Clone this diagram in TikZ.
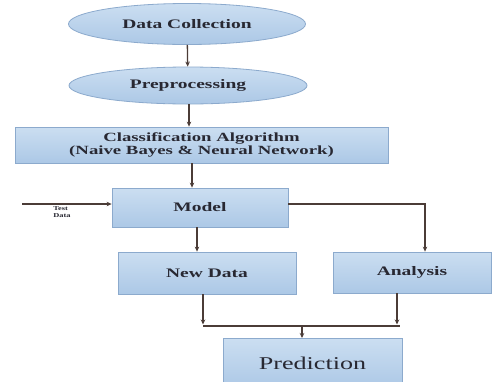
\documentclass[tikz,border=0pt]{standalone}
\usepackage{fontspec}
\setmainfont{Liberation Serif}[FakeStretch=1.5]
\newfontfamily\smallserif{Liberation Serif}[FakeStretch=1.4]
\newfontfamily\predfont{Liberation Serif}[FakeStretch=1.45]
\usetikzlibrary{shapes.geometric,arrows.meta}
\definecolor{boxtop}{RGB}{203,222,241}
\definecolor{boxbot}{RGB}{172,200,230}
\definecolor{boxborder}{RGB}{140,170,205}
\definecolor{linecol}{RGB}{75,60,55}
\definecolor{txtcol}{RGB}{40,40,50}
\tikzset{
  blockbase/.style={draw=boxborder, line width=0.8pt, top color=boxtop, bottom color=boxbot,
    text=txtcol, inner sep=0pt, align=center},
  ovalbox/.style={blockbase, ellipse, font=\fontsize{13}{15}\selectfont\bfseries},
  rectbox/.style={blockbase, rectangle, font=\fontsize{13}{15}\selectfont\bfseries},
  conn/.style={draw=linecol, line width=1.3pt},
  arr/.style={conn, -{Stealth[length=5pt,width=4.5pt]}}
}
\begin{document}
\begin{tikzpicture}[x=1pt,y=-1pt]
\clip (0,0) rectangle (493,381);
\fill[white] (0,0) rectangle (493,381);

\node[ovalbox, minimum width=237pt, minimum height=41pt] (dc) at (187,24) {Data Collection};
\node[ovalbox, minimum width=238pt, minimum height=37pt] (pp) at (188,85.5) {Preprocessing};
\node[rectbox, minimum width=373pt, minimum height=36pt,
      font=\fontsize{12.5}{12.5}\selectfont\bfseries] (cl) at (201.5,145)
      {Classification Algorithm\\(Naive Bayes \& Neural Network)};
\node[rectbox, minimum width=176pt, minimum height=39pt] (md) at (200,207.5) {Model};
\node[rectbox, minimum width=178pt, minimum height=42pt] (nd) at (207,273) {New Data};
\node[rectbox, minimum width=158pt, minimum height=41pt] (an) at (412,272.5) {Analysis};
\node[blockbase, rectangle, minimum width=179pt, minimum height=50pt,
      font=\predfont\fontsize{18}{20}\selectfont, anchor=north] (pr) at (312.5,338) {\raisebox{-4pt}{Prediction}};

\node[font=\smallserif\fontsize{6}{7}\selectfont\bfseries, text=txtcol, align=left] (tdl) at (62,212) {Test\\Data};
\coordinate (td) at (22,204);

\coordinate (j1) at (203,326);
\coordinate (j2) at (400,326);
\coordinate (j3) at (302,326);

\draw[arr] (dc) -- (pp);
\draw[arr] ([xshift=1pt]pp.south) -- ([xshift=1pt]pp.south |- cl.north);
\draw[arr] ([xshift=-9.5pt]cl.south) -- ([xshift=-9.5pt]cl.south |- md.north);
\draw[arr] (td) -- (td -| md.west);
\draw[arr] ([xshift=-3pt]md.south) -- ([xshift=-3pt]md.south |- nd.north);
\draw[arr] ([yshift=3.5pt]md.east) -| ([xshift=13pt]an.north);
\draw[arr] (nd.south -| j1) -- ([yshift=1.5pt]j1);
\draw[arr] (an.south -| 397,0) -- ([yshift=1.5pt,xshift=-3pt]j2);
\draw[conn] (j1) -- (j2);
\draw[arr] (j3) -- (j3 |- pr.north);
\end{tikzpicture}
\end{document}
